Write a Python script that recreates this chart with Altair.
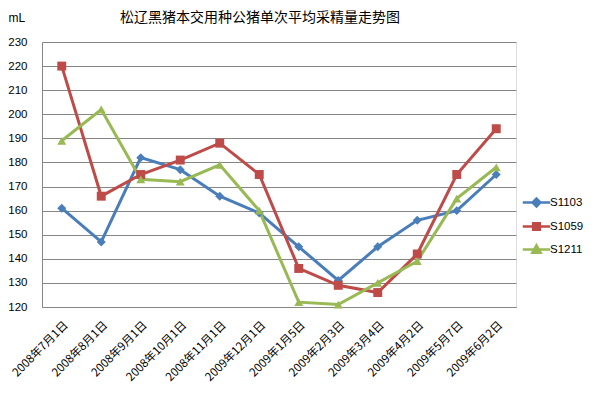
import altair as alt
import pandas as pd

dates = ["2008年7月1日", "2008年8月1日", "2008年9月1日", "2008年10月1日",
         "2008年11月1日", "2009年12月1日", "2009年1月5日", "2009年2月3日",
         "2009年3月4日", "2009年4月2日", "2009年5月7日", "2009年6月2日"]
series_names = ["S1103", "S1059", "S1211"]
s1103 = [161, 147, 182, 177, 166, 159, 145, 131, 145, 156, 160, 175]
s1059 = [220, 166, 175, 181, 188, 175, 136, 129, 126, 142, 175, 194]
s1211 = [189, 202, 173, 172, 179, 160, 122, 121, 130, 139, 165, 178]
y_ticks = [120, 130, 140, 150, 160, 170, 180, 190, 200, 210, 220, 230]

colors = ["#4A7EBB", "#BE4B48", "#98B954"]
point_shapes = ["diamond", "square", "triangle-up"]
legend_shapes = [
    "M-1.25,0H1.25M0,-0.36L0.36,0L0,0.36L-0.36,0Z",
    "M-1.25,0H1.25M-0.3,-0.3H0.3V0.3H-0.3Z",
    "M-1.25,0H1.25M0,-0.38L0.38,0.3H-0.38Z",
]

rows = []
for name, vals in zip(series_names, [s1103, s1059, s1211]):
    for d, v in zip(dates, vals):
        rows.append({"date": d, "value": v, "series": name})
df = pd.DataFrame(rows)

FONT_CJK = "Noto Sans CJK SC"

x_enc = alt.X("date:N", sort=dates, scale=alt.Scale(type="point", padding=0.5),
              axis=alt.Axis(title=None, labelAngle=-45, labelAlign="right",
                            labelBaseline="top", labelFont=FONT_CJK,
                            labelFontSize=11.5, labelColor="#000000",
                            labelPadding=12, ticks=False, tickSize=0,
                            domainColor="#868686", grid=False, labelOverlap=False,
                            labelBound=False))
y_enc = alt.Y("value:Q", scale=alt.Scale(domain=[120, 230], nice=False, zero=False),
              axis=alt.Axis(values=y_ticks, title="mL", titleAngle=0, titleX=-34,
                            titleY=-25, titleAlign="left", titleBaseline="middle",
                            titleFont="Liberation Sans", titleFontSize=12,
                            titleFontWeight="normal", titleColor="#000000",
                            labelFont="Liberation Sans", labelFontSize=11.5,
                            labelColor="#000000", labelPadding=15, ticks=False,
                            tickSize=0, domainColor="#868686", gridColor="#868686",
                            gridWidth=1))

color_scale = alt.Scale(domain=series_names, range=colors)

lines = alt.Chart(df).mark_line(strokeWidth=3).encode(
    x=x_enc, y=y_enc,
    color=alt.Color("series:N", scale=color_scale, legend=None),
)

points = alt.Chart(df).mark_point(filled=True, size=80, opacity=1).encode(
    x=x_enc, y=y_enc,
    color=alt.Color("series:N", scale=color_scale, legend=None),
    shape=alt.Shape("series:N", scale=alt.Scale(domain=series_names, range=point_shapes),
                    legend=None),
)


def make_legend():
    return alt.Legend(title=None, orient="none", legendX=482, legendY=148,
                      symbolSize=484, symbolStrokeWidth=2.5,
                      labelFont="Liberation Sans", labelFontSize=11.5,
                      labelColor="#000000", labelOffset=1, padding=0, rowPadding=2)


legend_layer = alt.Chart(df).transform_filter("false").mark_point(
    filled=True, opacity=1).encode(
    fill=alt.Fill("series:N", scale=alt.Scale(domain=series_names, range=colors),
                  legend=make_legend()),
    stroke=alt.Stroke("series:N", scale=alt.Scale(domain=series_names, range=colors),
                      legend=make_legend()),
    shape=alt.Shape("series:N", scale=alt.Scale(domain=series_names, range=legend_shapes),
                    legend=make_legend()),
)

chart = alt.layer(lines, points, legend_layer).resolve_scale(
    color="independent", shape="independent", fill="independent", stroke="independent"
).properties(
    width=474, height=265,
    autosize=alt.AutoSizeParams(type="none"),
    padding={"left": 34, "top": 34, "right": 70, "bottom": 84},
    title=alt.TitleParams("松辽黑猪本交用种公猪单次平均采精量走势图", font=FONT_CJK,
                          fontSize=14, fontWeight="normal", color="#000000",
                          anchor="middle", frame="group", dx=-19, offset=-14),
).configure_view(stroke=None).configure(background="white")

chart.save("out.html", embed_options={"renderer": "svg", "actions": False})
